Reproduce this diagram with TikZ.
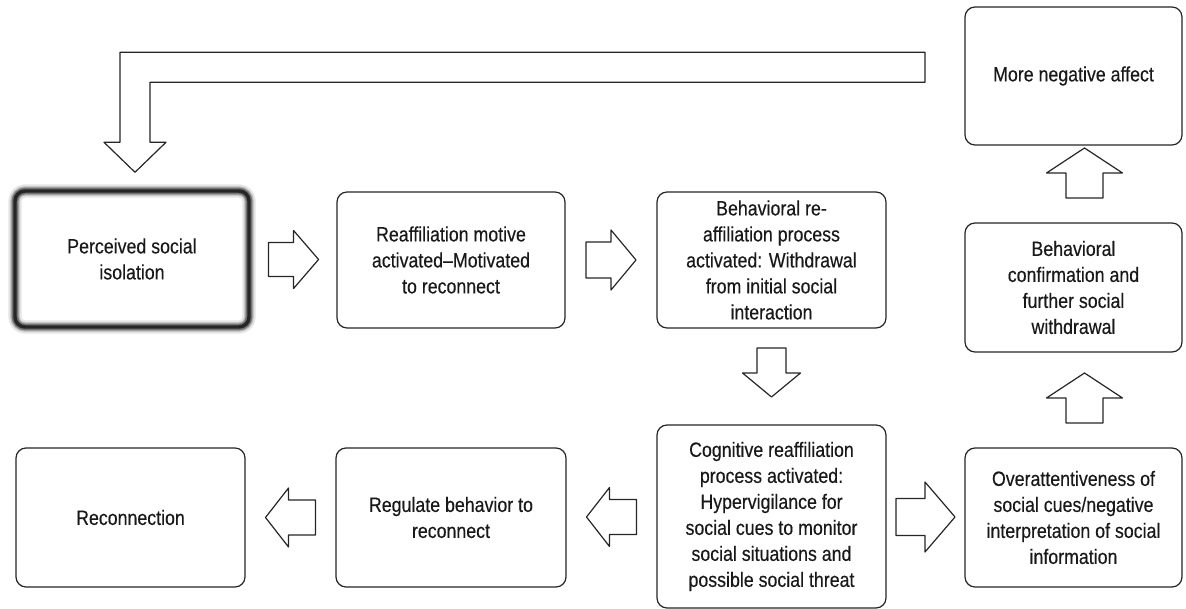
\documentclass[tikz,border=0pt]{standalone}
\usepackage{fontspec}
\setmainfont{Liberation Sans}[FakeStretch=0.86,FakeBold=0.3]
\usetikzlibrary{calc}
\begin{document}
\begin{tikzpicture}[x=0.75pt,y=-0.75pt,line join=round,
  font=\fontsize{15.5}{19.5}\selectfont,
  sz/.style 2 args={minimum width=#1*0.75pt,minimum height=#2*0.75pt},
  box/.style={draw=black!85,rounded corners=7.5pt,line width=0.9pt,fill=white,align=center,text=black!90,inner sep=0pt},
  glowbox/.style={box,fill=none,
    preaction={draw,line width=10pt,black!10},
    preaction={draw,line width=7pt,black!28},
    preaction={draw,line width=5pt,black!55},
    line width=2.6pt},
  blk/.style={draw=black!85,line width=0.9pt,fill=white},
  pics/blockarr/.style args={#1/#2/#3/#4}{code={
    \draw[blk] (-#1/2,-#3) -- (#1/2-#2,-#3) -- (#1/2-#2,-#4) -- (#1/2,0)
      -- (#1/2-#2,#4) -- (#1/2-#2,#3) -- (-#1/2,#3) -- cycle;}}]
\useasboundingbox (0,0) rectangle (1186,609);
% boxes
\node[glowbox,sz={234}{136}] (iso) at (132,259) {Perceived social\\isolation};
\node[box,sz={228}{136}] (mot) at (451,260) {Reaffiliation motive\\activated–Motivated\\to reconnect};
\node[box,sz={229}{136}] (beh) at (771.5,260) {Behavioral re-\\affiliation process\\activated: Withdrawal\\from initial social\\interaction};
\node[box,sz={217}{138}] (neg) at (1073.5,76) {More negative affect};
\node[box,sz={217}{129}] (conf) at (1073.5,287.5) {Behavioral\\confirmation and\\further social\\withdrawal};
\node[box,sz={217}{139}] (over) at (1073.5,517.5) {Overattentiveness of\\social cues/negative\\interpretation of social\\information};
\node[box,sz={229}{183}] (cog) at (771.5,516.5) {Cognitive reaffiliation\\process activated:\\Hypervigilance for\\social cues to monitor\\social situations and\\possible social threat};
\node[box,sz={230}{139}] (reg) at (451,517.5) {Regulate behavior to\\reconnect};
\node[box,sz={229}{139}] (rec) at (130.5,517.5) {Reconnection};
% block arrows
\pic at ($(iso.east)!0.5!(mot.west)$) {blockarr=50/25/17/29};
\pic at ($(mot.east)!0.5!(beh.west)$) {blockarr=50/25/18/30};
\pic[rotate=-90] at ($(beh.south)!0.5!(cog.north)+(0,-4)$) {blockarr=49/24/14.5/29};
\pic at ($(cog.east)!0.5!(over.west)$) {blockarr=59/30/18.5/35};
\pic[rotate=90] at ($(over.north)!0.5!(conf.south)+(11,-2)$) {blockarr=50/25/18.5/38};
\pic[rotate=90] at ($(conf.north)!0.5!(neg.south)+(11,-11)$) {blockarr=50/25/18.5/38};
\pic[rotate=180] at ($(cog.west)!0.5!(reg.east)$) {blockarr=50/23/17.5/29.5};
\pic[rotate=180] at ($(reg.west)!0.5!(rec.east)$) {blockarr=50/23/17.5/29.5};
% feedback
\draw[blk] (iso.north) ++(3,-17) coordinate (fbtip) -- ++(-31,-30) -- ++(16,0) -- ++(0,-90)
  -- ++(805,0) -- ++(0,30) -- ++(-775,0) -- ++(0,60) -- ++(16,0) -- cycle;
\end{tikzpicture}
\end{document}
